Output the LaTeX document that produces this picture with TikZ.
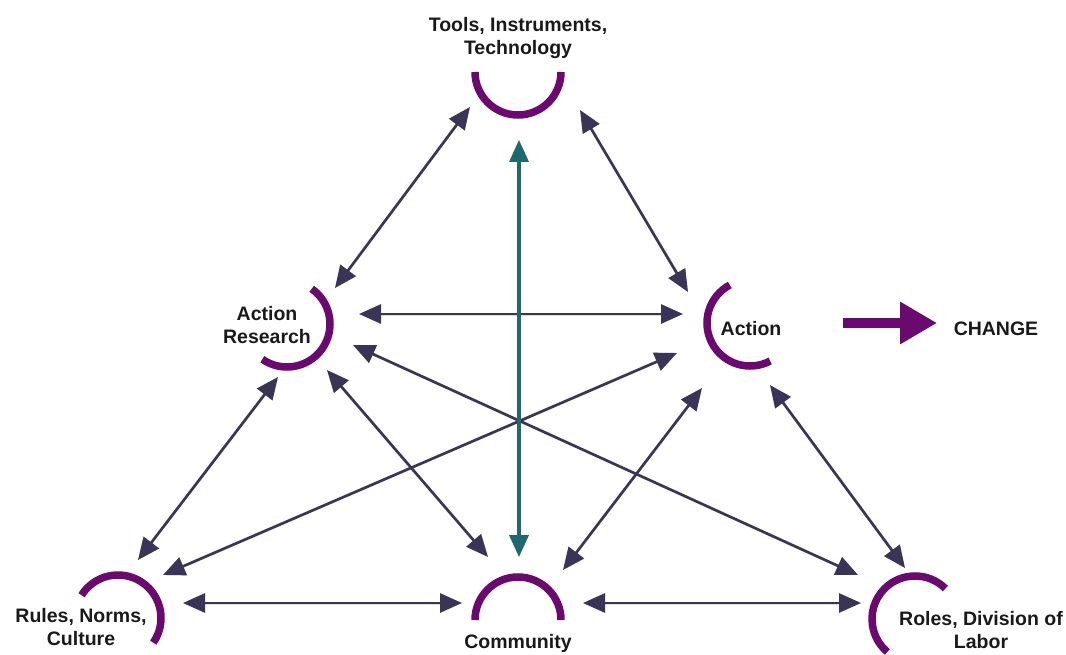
\documentclass[tikz,border=0pt]{standalone}
\usepackage{fontspec}
\setmainfont{Liberation Sans}
\usetikzlibrary{arrows.meta,calc}
\definecolor{arcpurple}{HTML}{6A0A6E}
\definecolor{linknavy}{HTML}{3A3457}
\definecolor{linkteal}{HTML}{1E6870}
\begin{document}
\begin{tikzpicture}[x=1pt,y=-1pt,
  label/.style={font=\fontsize{19.5}{23}\selectfont\bfseries, align=center,
                inner sep=0pt, anchor=base, text=black!90},
  bracket/.style={draw=arcpurple, line width=7.5pt},
  tips/.style={{Triangle[length=22pt,width=19pt]}-{Triangle[length=22pt,width=19pt]}},
  link/.style={tips, draw=linknavy, line width=2.6pt},
  corelink/.style={tips, draw=linkteal, line width=3.5pt},
  drop/.style={tips, draw=black!30, opacity=0.45, line width=3pt},
  bigarrow/.style={-{Triangle[length=37pt,width=40pt]}, draw=arcpurple, line width=10pt}
]
\useasboundingbox (0,0) rectangle (1066,655);

% concept labels (a label's position is the baseline of its last line)
\node[label] (tools)     at (518,55)  {Tools, Instruments,\\Technology};
\node[label] (ar)        at (267,343) {Action\\Research};
\node[label] (action)    at (751,335) {Action};
\node[label] (change)    at (996,335) {CHANGE};
\node[label] (rules)     at (81,645)  {Rules, Norms,\\Culture};
\node[label] (community) at (518,648) {Community};
\node[label] (roles)     at (981,648) {Roles, Division of\\Labor};

% purple brackets around each concept
\coordinate (cTools) at (518,72);
\coordinate (cAr)    at (287,324);
\coordinate (cAct)   at (750,323);
\coordinate (cRules) at (118,618);
\coordinate (cComm)  at (518,620);
\coordinate (cRoles) at (915,619);
\draw[bracket] ($(cTools)+(180:43pt)$) arc[start angle=180, end angle=360, radius=43pt];
\draw[bracket] ($(cAr)+(55:43pt)$)     arc[start angle=55,  end angle=-125, radius=43pt];
\draw[bracket] ($(cAct)+(118:43pt)$)   arc[start angle=118, end angle=298, radius=43pt];
\draw[bracket] ($(cRules)+(148:43pt)$) arc[start angle=148, end angle=-35, radius=43pt];
\draw[bracket] ($(cComm)+(0:43pt)$)    arc[start angle=0,   end angle=180, radius=43pt];
\draw[bracket] ($(cRoles)+(45:43pt)$)  arc[start angle=45,  end angle=230, radius=43pt];

% connector ends
\coordinate (tA) at (470,107);  \coordinate (tB) at (580,110);  \coordinate (tC) at (519,140);
\coordinate (arT) at (335,288); \coordinate (arR) at (359,314); \coordinate (arB) at (278,377);
\coordinate (arC) at (327,370); \coordinate (arD) at (353,345);
\coordinate (acT) at (688,292); \coordinate (acL) at (683,314); \coordinate (acR) at (677,353);
\coordinate (acC) at (702,388); \coordinate (acD) at (770,385);
\coordinate (acOut) at (843,323); \coordinate (chIn) at (937,323);
\coordinate (ruA) at (138,560); \coordinate (ruB) at (163,575); \coordinate (ruC) at (183,603);
\coordinate (coL) at (462,603); \coordinate (coA) at (488,557); \coordinate (coT) at (519,557);
\coordinate (coB) at (563,570); \coordinate (coR) at (583,603);
\coordinate (roA) at (858,575); \coordinate (roB) at (905,568); \coordinate (roL) at (861,603);

% soft shadows under the connectors
\begin{scope}[shift={(2,3)}]
  \foreach \a/\b in {tA/arT, tB/acT, arR/acL, arB/ruA, acR/ruB, arC/coA,
                     acC/coB, arD/roA, acD/roB, ruC/coL, coR/roL, tC/coT}
    \draw[drop] (\a) -- (\b);
  \draw[bigarrow, draw=black!30, opacity=0.45] (acOut) -- (chIn);
\end{scope}

% connectors
\foreach \a/\b in {tA/arT, tB/acT, arR/acL, arB/ruA, acR/ruB, arC/coA,
                   acC/coB, arD/roA, acD/roB, ruC/coL, coR/roL}
  \draw[link] (\a) -- (\b);
\draw[corelink] (tC) -- (coT);
\draw[bigarrow] (acOut) -- (chIn);
\end{tikzpicture}
\end{document}
